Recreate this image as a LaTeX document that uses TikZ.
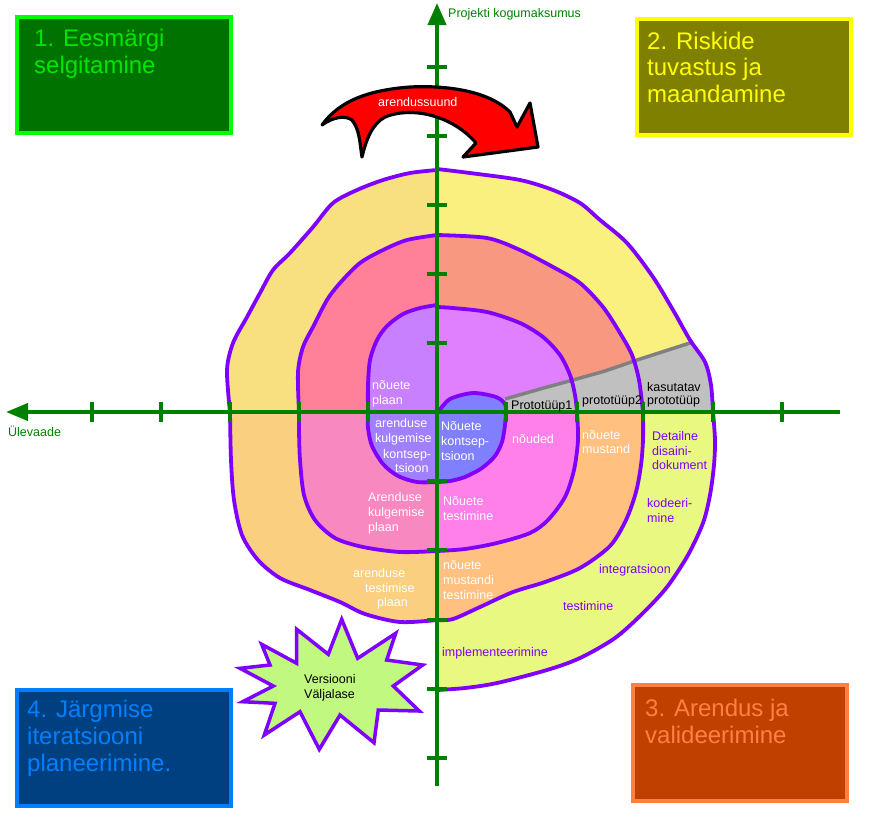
\documentclass[tikz,border=0pt]{standalone}
\usepackage{fontspec}
\setmainfont{Liberation Sans}
\usetikzlibrary{arrows.meta}
\definecolor{spiral}{HTML}{8000FF}
\definecolor{axisgreen}{HTML}{008000}
\definecolor{cUL1}{HTML}{C880FF}
\definecolor{cUL2}{HTML}{FF8098}
\definecolor{cUL3}{HTML}{F8E080}
\definecolor{cUR1}{HTML}{E080FF}
\definecolor{cUR2}{HTML}{F89880}
\definecolor{cUR3}{HTML}{FAF080}
\definecolor{cBlue}{HTML}{8080FF}
\definecolor{cLR2}{HTML}{FF80E8}
\definecolor{cLR3}{HTML}{FFC080}
\definecolor{cLR4}{HTML}{E8F880}
\definecolor{cLL1}{HTML}{A080FF}
\definecolor{cLL2}{HTML}{F888C0}
\definecolor{cLL3}{HTML}{FAD080}
\definecolor{cGray}{HTML}{C0C0C0}
\definecolor{cGrayLine}{HTML}{808080}
\definecolor{starfill}{HTML}{C0F880}
\definecolor{bAfill}{HTML}{007200}\definecolor{bAdraw}{HTML}{00FF00}\definecolor{bAtext}{HTML}{00E600}
\definecolor{bBfill}{HTML}{808000}\definecolor{bBdraw}{HTML}{FFFF00}\definecolor{bBtext}{HTML}{FFFF00}
\definecolor{bCfill}{HTML}{C04000}\definecolor{bCdraw}{HTML}{FF8040}\definecolor{bCtext}{HTML}{FF8040}
\definecolor{bDfill}{HTML}{004080}\definecolor{bDdraw}{HTML}{0080FF}\definecolor{bDtext}{HTML}{0080FF}
\begin{document}
\begin{tikzpicture}[x=1pt,y=-1pt,
  arcline/.style={draw=spiral,line width=3.8pt,line cap=round,line join=round},
  axisline/.style={draw=axisgreen,line width=4pt},
  tick/.style={draw=axisgreen,line width=3.5pt},
  lab/.style={font=\fontsize{12.5}{15}\selectfont,inner sep=0pt,anchor=base west},
  wlab/.style={lab,text=white},
  plab/.style={lab,text=spiral},
  blab/.style={lab,text=black},
  glab/.style={lab,text=axisgreen},
  boxframe/.style={line width=4pt,minimum width=214pt,minimum height=116pt,inner sep=0pt},
  boxtext/.style={font=\fontsize{24}{27}\selectfont,inner sep=0pt,anchor=base west},
  redarrow/.style={draw=black,fill=red,line width=3.2pt,line join=round},
  starshape/.style={draw=spiral,fill=starfill,line width=3.5pt,line join=miter}]
\useasboundingbox (0,0) rectangle (869,823);
\fill[white] (0,0) rectangle (869,823);

% ---------- UR quadrant fills ----------
\fill[cUR3] (437,412) -- plot[smooth] coordinates {(437,169) (470,173) (520,180) (553,190) (580,203) (600,220) (627,243) (653,277) (673,310) (690,340) (705,362) (711,385) (713,412)} -- cycle;
\fill[cUR2] (437,412) -- plot[smooth] coordinates {(437,235) (487,238) (520,250) (553,267) (580,283) (603,307) (620,333) (632,355) (639,380) (643,412)} -- cycle;
\fill[cUR1] (437,412) -- plot[smooth] coordinates {(437,307) (453,308) (487,312) (520,323) (543,337) (560,355) (570,375) (575,395) (577,412)} -- cycle;
\begin{scope}
\clip (437,412) -- plot[smooth] coordinates {(437,169) (470,173) (520,180) (553,190) (580,203) (600,220) (627,243) (653,277) (673,310) (690,340) (705,362) (711,385) (713,412)} -- cycle;
\fill[cGray] (500,400) -- (540,389) -- (573,380) -- (605,371) -- (637,360) -- (665,351) -- (693,342) -- (760,320) -- (760,412) -- (500,412) -- cycle;
\end{scope}
\fill[cBlue] (437,412) -- plot[smooth] coordinates {(439,411) (450,399) (473,393) (496,397) (505,404) (506,412)} -- cycle;

% ---------- LR quadrant fills ----------
\fill[cLR4] (437,412) -- plot[smooth] coordinates {(713,412) (715,440) (714,465) (710,495) (703,523) (688,555) (667,587) (643,613) (615,638) (580,658) (547,670) (497,683) (465,688) (437,690)} -- cycle;
\fill[cLR3] (437,412) -- plot[smooth] coordinates {(643,412) (643,440) (641,465) (636,492) (626,520) (610,546) (580,568) (545,582) (513,592) (480,607) (453,619) (437,620)} -- cycle;
\fill[cLR2] (437,412) -- plot[smooth] coordinates {(577,412) (578,440) (574,470) (565,497) (548,520) (530,533) (497,543) (465,549) (437,551)} -- cycle;
\fill[cBlue] (437,412) -- plot[smooth] coordinates {(506,412) (505,425) (502,442) (495,456) (482,468) (465,477) (450,481) (437,482)} -- cycle;

% ---------- LL quadrant fills ----------
\fill[cLL3] (437,412) -- plot[smooth] coordinates {(437,620) (400,622) (365,614) (340,602) (310,590) (280,578) (258,560) (242,535) (234,500) (231,460) (230,412)} -- cycle;
\fill[cLL2] (437,412) -- plot[smooth] coordinates {(437,551) (400,552) (363,547) (335,538) (315,520) (304,495) (300,460) (299,430) (299,412)} -- cycle;
\fill[cLL1] (437,412) -- plot[smooth] coordinates {(437,482) (417,482) (398,476) (383,464) (372,446) (368,428) (368,412)} -- cycle;

% ---------- UL quadrant fills ----------
\fill[cUL3] (437,412) -- plot[smooth] coordinates {(230,412) (227,370) (233,343) (247,317) (260,293) (273,270) (290,253) (313,227) (333,203) (357,190) (383,180) (410,173) (437,170)} -- cycle;
\fill[cUL2] (437,412) -- plot[smooth] coordinates {(299,412) (298,372) (303,347) (313,327) (327,300) (340,283) (360,263) (383,250) (407,240) (437,235)} -- cycle;
\fill[cUL1] (437,412) -- plot[smooth] coordinates {(368,412) (368,385) (370,360) (377,340) (387,326) (403,314) (420,308) (437,305)} -- cycle;

% ---------- gray boundary line ----------
\draw[cGrayLine,line width=3.5pt] (505,399) -- (540,389) -- (573,380) -- (605,371) -- (637,360) -- (665,351) -- (693,342);

% ---------- spiral arcs ----------
\draw[arcline] plot[smooth] coordinates {(439,411) (450,399) (473,393) (496,397) (505,404) (506,412)};
\draw[arcline] plot[smooth] coordinates {(506,412) (505,425) (502,442) (495,456) (482,468) (465,477) (450,481) (437,482)};
\draw[arcline] plot[smooth] coordinates {(437,482) (417,482) (398,476) (383,464) (372,446) (368,428) (368,412)};
\draw[arcline] plot[smooth] coordinates {(368,412) (368,385) (370,360) (377,340) (387,326) (403,314) (420,308) (437,305)};
\draw[arcline] plot[smooth] coordinates {(437,307) (453,308) (487,312) (520,323) (543,337) (560,355) (570,375) (575,395) (577,412)};
\draw[arcline] plot[smooth] coordinates {(577,412) (578,440) (574,470) (565,497) (548,520) (530,533) (497,543) (465,549) (437,551)};
\draw[arcline] plot[smooth] coordinates {(437,551) (400,552) (363,547) (335,538) (315,520) (304,495) (300,460) (299,430) (299,412)};
\draw[arcline] plot[smooth] coordinates {(299,412) (298,372) (303,347) (313,327) (327,300) (340,283) (360,263) (383,250) (407,240) (437,235)};
\draw[arcline] plot[smooth] coordinates {(437,235) (487,238) (520,250) (553,267) (580,283) (603,307) (620,333) (632,355) (639,380) (643,412)};
\draw[arcline] plot[smooth] coordinates {(643,412) (643,440) (641,465) (636,492) (626,520) (610,546) (580,568) (545,582) (513,592) (480,607) (453,619) (437,620)};
\draw[arcline] plot[smooth] coordinates {(437,620) (400,622) (365,614) (340,602) (310,590) (280,578) (258,560) (242,535) (234,500) (231,460) (230,412)};
\draw[arcline] plot[smooth] coordinates {(230,412) (227,370) (233,343) (247,317) (260,293) (273,270) (290,253) (313,227) (333,203) (357,190) (383,180) (410,173) (437,170)};
\draw[arcline] plot[smooth] coordinates {(437,169) (470,173) (520,180) (553,190) (580,203) (600,220) (627,243) (653,277) (673,310) (690,340) (705,362) (711,385) (713,412)};
\draw[arcline] plot[smooth] coordinates {(713,412) (715,440) (714,465) (710,495) (703,523) (688,555) (667,587) (643,613) (615,638) (580,658) (547,670) (497,683) (465,688) (437,690)};

% ---------- axes ----------
\coordinate (ytop) at (437,3);
\coordinate (ybot) at (437,786);
\coordinate (xleft) at (6,412);
\coordinate (xright) at (840,412);
\draw[axisline,-{Triangle[length=22pt,width=18pt]}] (ybot) -- (ytop);
\draw[axisline,-{Triangle[length=22pt,width=17pt]}] (xright) -- (xleft);
\foreach \tx in {92,161,230,299,368,506,577,643,713,782}
  \draw[tick] (\tx,402) -- (\tx,422);
\foreach \ty in {67,136,205,274,343,481,550,620,689,758}
  \draw[tick] (427,\ty) -- (447,\ty);
\node[glab] (ylabel) at (448,17) {Projekti kogumaksumus};
\node[glab] (xlabel) at (8,436) {Ülevaade};

% ---------- labels in spiral ----------
\node[wlab] (t1a) at (372,389) {nõuete};
\node[wlab] (t1b) at (372,404) {plaan};
\node[wlab] (t2a) at (375,427) {arenduse};
\node[wlab] (t2b) at (375,442) {kulgemise};
\node[wlab] (t2c) at (383,458) {kontsep-};
\node[wlab] (t2d) at (395,472) {tsioon};
\node[wlab] (t3a) at (441,430) {Nõuete};
\node[wlab] (t3b) at (441,445) {kontsep-};
\node[wlab] (t3c) at (441,460) {tsioon};
\node[wlab] (t4) at (512,443) {nõuded};
\node[wlab] (t5a) at (443,505) {Nõuete};
\node[wlab] (t5b) at (443,520) {testimine};
\node[wlab] (t6a) at (368,501) {Arenduse};
\node[wlab] (t6b) at (368,516) {kulgemise};
\node[wlab] (t6c) at (368,531) {plaan};
\node[blab] (p1) at (511,409) {Prototüüp1};
\node[blab] (p2) at (582,404) {prototüüp2};
\node[blab] (p3a) at (647,391) {kasutatav};
\node[blab] (p3b) at (647,404) {prototüüp};
\node[wlab] (t7a) at (582,439) {nõuete};
\node[wlab] (t7b) at (582,453) {mustand};
\node[plab] (t8a) at (652,440) {Detailne};
\node[plab] (t8b) at (652,455) {disaini-};
\node[plab] (t8c) at (652,469) {dokument};
\node[plab] (t9a) at (647,507) {kodeeri-};
\node[plab] (t9b) at (647,522) {mine};
\node[plab] (t10) at (599,573) {integratsioon};
\node[plab] (t11) at (563,610) {testimine};
\node[plab] (t12) at (442,656) {implementeerimine};
\node[wlab] (t13a) at (443,569) {nõuete};
\node[wlab] (t13b) at (443,584) {mustandi};
\node[wlab] (t13c) at (443,599) {testimine};
\node[wlab] (t14a) at (353,577) {arenduse};
\node[wlab] (t14b) at (365,592) {testimise};
\node[wlab] (t14c) at (377,606) {plaan};

% ---------- direction arrow ----------
\draw[redarrow] (322,125) .. controls (340,100) and (370,90) .. (410,87) .. controls (450,85) and (490,92) .. (510,112) -- (517,127) -- (530,103) -- (538,147) -- (463,157) -- (476,143) .. controls (455,118) and (415,105) .. (385,117) .. controls (372,124) and (366,140) .. (362,157) .. controls (360,145) and (360,130) .. (352,120) .. controls (345,115) and (333,117) .. (322,125) -- cycle;
\node[wlab] (arrowtext) at (378,106) {arendussuund};

% ---------- release star ----------
\draw[starshape] (341.7,619.3) -- (357.7,658.3) -- (395.7,633.3) -- (386.7,660) -- (422.7,665) -- (393.3,686) -- (419.3,711) -- (378.3,710) -- (374,742.7) -- (340,715) -- (319.3,749.3) -- (300,711.7) -- (264.3,735) -- (275,703.3) -- (242.7,701.7) -- (273.3,686) -- (240,668.3) -- (270,665) -- (261.7,644.3) -- (296.7,663.3) -- (296.7,629.3) -- (328.3,654.3) -- cycle;
\node[blab] (s1) at (304,683) {Versiooni};
\node[blab] (s2) at (304,698) {Väljalase};

% ---------- corner boxes ----------
\node[boxframe,draw=bAdraw,fill=bAfill] (boxA) at (124,75) {};
\node[boxtext,text=bAtext] (boxAa) at (34,46) {1. Eesmärgi};
\node[boxtext,text=bAtext] (boxAb) at (34,73) {selgitamine};
\node[boxframe,draw=bBdraw,fill=bBfill] (boxB) at (744,77) {};
\node[boxtext,text=bBtext] (boxBa) at (647,49) {2. Riskide};
\node[boxtext,text=bBtext] (boxBb) at (647,75) {tuvastus ja};
\node[boxtext,text=bBtext] (boxBc) at (647,102) {maandamine};
\node[boxframe,draw=bCdraw,fill=bCfill] (boxC) at (740,742.5) {};
\node[boxtext,text=bCtext] (boxCa) at (645,716) {3. Arendus ja};
\node[boxtext,text=bCtext] (boxCb) at (645,743) {valideerimine};
\node[boxframe,draw=bDdraw,fill=bDfill] (boxD) at (124,747.5) {};
\node[boxtext,text=bDtext] (boxDa) at (27,717) {4. Järgmise};
\node[boxtext,text=bDtext] (boxDb) at (27,744) {iteratsiooni};
\node[boxtext,text=bDtext] (boxDc) at (27,771) {planeerimine.};
\end{tikzpicture}
\end{document}
